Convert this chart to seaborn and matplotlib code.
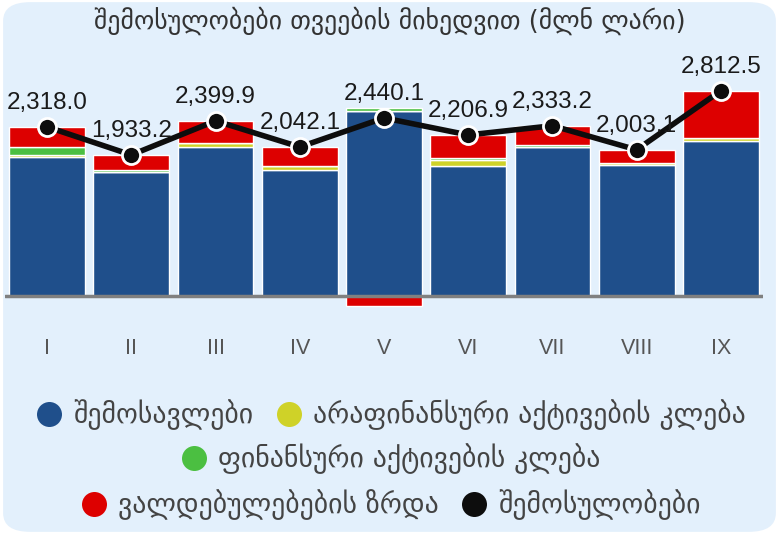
import numpy as np
import pandas as pd
import matplotlib
matplotlib.use("Agg")
import matplotlib.pyplot as plt
from matplotlib.lines import Line2D
from matplotlib.patches import FancyBboxPatch
import seaborn as sns

# data (mln GEL)
months = ["I", "II", "III", "IV", "V", "VI", "VII", "VIII", "IX"]
revenue = [1900, 1700, 2040, 1730, 2540, 1775, 2040, 1795, 2130]
nonfin_assets = [30, 5, 55, 55, 0, 85, 0, 28, 30]
fin_assets = [110, 25, 0, 0, 40, 27, 25, 0, 0]
liabilities = [278, 203, 305, 257, -140, 320, 268, 180, 652]
receipts = [2318.0, 1933.2, 2399.9, 2042.1, 2440.1, 2206.9, 2333.2, 2003.1, 2812.5]

names = ["შემოსავლები", "არაფინანსური აქტივების კლება", "ფინანსური აქტივების კლება",
         "ვალდებულებების ზრდა", "შემოსულობები"]
colors = ["#1F4F8B", "#CFD228", "#4BBF41", "#DD0000", "#0D0D0D"]

sns.set_style("white")
plt.rcParams['font.family'] = ['DejaVu Sans']

fig = plt.figure(figsize=(7.79, 5.34), dpi=100)
fig.patch.set_facecolor("white")
bg = FancyBboxPatch((0.004, 0.004), 0.992, 0.992, boxstyle="round,pad=0,rounding_size=0.035",
                    transform=fig.transFigure, facecolor="#E3F0FC", edgecolor="none", zorder=-5)
fig.patches.append(bg)

ax = fig.add_axes([0.0064, 0.4195, 0.973, 0.468])
ax.set_facecolor("none")
ax.set_zorder(2)

# stacked bars: positives go up, negatives go down from zero
pos_bottom = np.zeros(len(months))
neg_bottom = np.zeros(len(months))
for vals, c in zip([revenue, nonfin_assets, fin_assets, liabilities], colors[:4]):
    vals = np.array(vals, dtype=float)
    bottom = np.where(vals >= 0, pos_bottom, neg_bottom)
    sns.barplot(x=months, y=vals, bottom=bottom, color=c, width=0.9,
                errorbar=None, saturation=1, ax=ax, zorder=2)
    pos_bottom += np.where(vals >= 0, vals, 0)
    neg_bottom += np.where(vals < 0, vals, 0)

ax.axhline(0, color="#808080", lw=2.5, zorder=3)

xs = np.arange(len(months))
sns.lineplot(x=xs, y=receipts, color=colors[4], lw=4, marker="o", markersize=13,
             markeredgecolor="white", markeredgewidth=2, ax=ax, zorder=5)
for x, v in zip(xs, receipts):
    ax.annotate(f"{v:,.1f}", (x, v), xytext=(0, 9), textcoords="offset points",
                ha="center", va="bottom", fontsize=17.5, color="#1a1a1a",
                family="Liberation Sans", zorder=6)

ax.set_xlim(-0.5, 8.5)
ax.set_ylim(-192, 3233)
ax.set_yticks([])
ax.set_xticks(xs)
ax.set_xticklabels(months, fontsize=15.5, color="#555555", family="Liberation Sans")
ax.tick_params(axis="x", length=0, pad=20)
for s in ax.spines.values():
    s.set_visible(False)
ax.set_xlabel("")
ax.set_ylabel("")

fig.text(0.5, 0.962, "შემოსულობები თვეების მიხედვით (მლნ ლარი)", ha="center", va="center",
         fontsize=18.5, color="#333333")


def handle(c):
    return Line2D([], [], ls="none", marker="o", markersize=18, markerfacecolor=c,
                  markeredgecolor="none")


rows = [([0, 1], 0.2228), ([2], 0.1404), ([3, 4], 0.0543)]
for idx, y in rows:
    fig.legend([handle(colors[i]) for i in idx], [names[i] for i in idx],
               loc="center", bbox_to_anchor=(0.501, y), ncol=len(idx), frameon=False,
               fontsize=20, labelcolor="#444444", handletextpad=0.35, columnspacing=0.8,
               handlelength=1.0)

fig.savefig("out.png", dpi=100)
